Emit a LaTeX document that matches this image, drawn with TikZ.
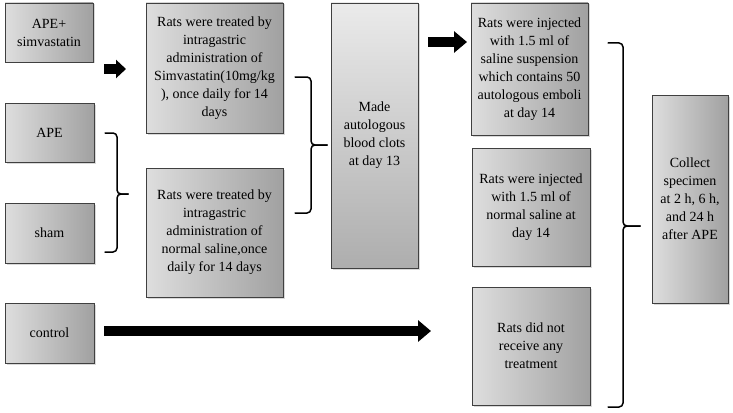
\documentclass[tikz,border=0pt]{standalone}
\usepackage{fontspec}
\setmainfont{Liberation Serif}
\usetikzlibrary{arrows.meta,shadows}
\begin{document}
\begin{tikzpicture}[x=1pt,y=-1pt,
  box/.style={draw=black!75, line width=0.8pt, left color=black!13, right color=black!37,
    anchor=north west, align=center, inner sep=0pt, outer sep=0pt,
    font=\fontsize{14}{18}\selectfont,
    drop shadow={shadow xshift=1.5pt, shadow yshift=-1.5pt, opacity=0.3}},
  vbox/.style={box, top color=black!8, bottom color=black!32},
  fatarrow/.style={line width=10pt, -{Triangle[length=13pt,width=21pt]}},
  smallarrow/.style={line width=9pt, -{Triangle[length=10pt,width=18pt]}},
  curlybr/.style={line width=1.5pt, rounded corners=4pt, line cap=round}
]
\useasboundingbox (0,0) rectangle (733,412);

% left column
\node[box, minimum width=88pt, minimum height=59pt] (apes) at (5,3) {APE+\\simvastatin};
\node[box, minimum width=89pt, minimum height=59pt] (ape) at (5,103) {APE};
\node[box, minimum width=89pt, minimum height=60pt] (sham) at (5,203) {sham};
\node[box, minimum width=89pt, minimum height=60pt] (ctrl) at (5,303) {control};

% treatment column
\node[box, minimum width=137pt, minimum height=130pt] (simva) at (146,3)
  {Rats were treated by\\intragastric\\administration of\\Simvastatin(10mg/kg\\), once daily for 14\\days};
\node[box, minimum width=137pt, minimum height=129pt] (saline) at (146,168)
  {Rats were treated by\\intragastric\\administration of\\normal saline,once\\daily for 14 days};

% clots
\node[vbox, minimum width=87pt, minimum height=265pt] (made) at (331,3)
  {Made\\autologous\\blood clots\\at day 13};

% injection column
\node[box, minimum width=117pt, minimum height=132pt] (inj1) at (471,3)
  {Rats were injected\\with 1.5 ml of\\saline suspension\\which contains 50\\autologous emboli\\at day 14};
\node[box, minimum width=118pt, minimum height=118pt] (inj2) at (472,148)
  {Rats were injected\\with 1.5 ml of\\normal saline at\\day 14};
\node[box, minimum width=118pt, minimum height=118pt] (none) at (472,287)
  {Rats did not\\receive any\\treatment};

% collect
\node[box, minimum width=76pt, minimum height=208pt] (collect) at (652,95)
  {Collect\\specimen\\at 2 h, 6 h,\\and 24 h\\after APE};

% arrows
\coordinate (a1s) at (104,69);
\coordinate (a1e) at (126,69);
\coordinate (a2s) at (428,42);
\coordinate (a2e) at (467,42);
\coordinate (a3s) at (104,331);
\coordinate (a3e) at (431,331);
\draw[smallarrow] (a1s) -- (a1e);
\draw[fatarrow] (a2s) -- (a2e);
\draw[fatarrow] (a3s) -- (a3e);

% braces
\draw[curlybr] (105,133) -- (117,133) -- (117,194) -- (128,194);
\draw[curlybr] (128,194) -- (117,194) -- (117,252) -- (105,252);

\draw[curlybr] (295,77) -- (311,77) -- (311,145) -- (327,145);
\draw[curlybr] (327,145) -- (311,145) -- (311,213) -- (295,213);

\draw[curlybr] (608,43) -- (623,43) -- (623,226) -- (640,226);
\draw[curlybr] (640,226) -- (623,226) -- (623,407) -- (608,407);
\end{tikzpicture}
\end{document}
